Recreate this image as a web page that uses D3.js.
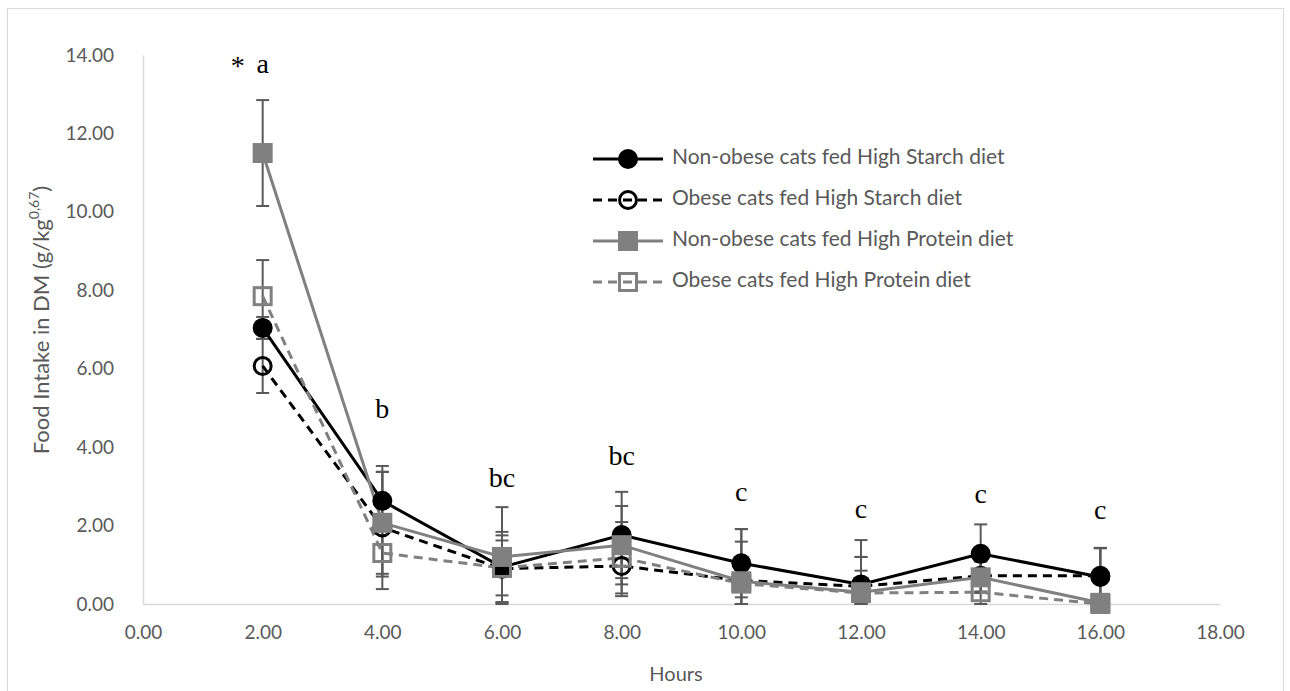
<!DOCTYPE html>
<html>
<head>
<meta charset="utf-8">
<script src="https://cdn.jsdelivr.net/npm/d3@7/dist/d3.min.js"></script>
<style>
  body { margin: 0; background: #fff; }
  svg { display: block; }
  .tick text { font-family: Lato, "Noto Sans", sans-serif; font-size: 19px; fill: #595959; }
</style>
</head>
<body>
<svg id="chart"></svg>
<script>
// hours after feeding
var hours = [2, 4, 6, 8, 10, 12, 14, 16];

// mean food intake per group, and the error bar size
var nonObeseStarch = [7.04, 2.63, 0.94, 1.76, 1.04, 0.50, 1.28, 0.69];
var nonObeseStarchErr = [0.28, 0.74, 0.90, 1.10, 0.87, 1.13, 0.75, 0.74];
var obeseStarch = [6.07, 1.95, 0.90, 0.97, 0.60, 0.45, 0.72, 0.72];
var obeseStarchErr = [0.69, 1.57, 0.85, 0.77, 0.60, 0.40, 0.40, 0.70];
var nonObeseProtein = [11.50, 2.07, 1.20, 1.50, 0.58, 0.30, 0.68, 0.03];
var nonObeseProteinErr = [1.35, 1.30, 1.27, 1.00, 1.01, 0.90, 0.40, 1.40];
var obeseProtein = [7.85, 1.30, 0.92, 1.18, 0.52, 0.28, 0.30, 0.00];
var obeseProteinErr = [0.92, 0.60, 0.70, 0.91, 1.39, 0.92, 0.30, 0.00];

var seriesNames = [
    "Non-obese cats fed High Starch diet",
    "Obese cats fed High Starch diet",
    "Non-obese cats fed High Protein diet",
    "Obese cats fed High Protein diet"
];

// significance letters above the time points
var letterHours = [2, 4, 6, 8, 10, 12, 14, 16];
var letterText = ["a", "b", "bc", "bc", "c", "c", "c", "c"];
var letterLevel = [13.7, 4.9, 3.16, 3.72, 2.78, 2.35, 2.73, 2.32];

var xTicks = d3.range(0, 19, 2);
var yTicks = d3.range(0, 15, 2);

var width = 1290;
var height = 691;

var series = [
    {name: seriesNames[0], values: nonObeseStarch, err: nonObeseStarchErr, color: "#000000", dash: null, shape: "circle", filled: true},
    {name: seriesNames[1], values: obeseStarch, err: obeseStarchErr, color: "#000000", dash: "9,6", shape: "circle", filled: false},
    {name: seriesNames[2], values: nonObeseProtein, err: nonObeseProteinErr, color: "#808080", dash: null, shape: "square", filled: true},
    {name: seriesNames[3], values: obeseProtein, err: obeseProteinErr, color: "#808080", dash: "9,6", shape: "square", filled: false}
];

var svg = d3.select("#chart")
    .attr("width", width)
    .attr("height", height);

// chart frame
svg.append("rect")
    .attr("x", 7.5).attr("y", 8.5)
    .attr("width", 1276).attr("height", 700)
    .attr("fill", "none")
    .attr("stroke", "#d9d9d9");

var x = d3.scaleLinear().domain([0, 18]).range([143, 1220]);
var y = d3.scaleLinear().domain([0, 14]).range([604, 55]);

var xAxis = svg.append("g")
    .attr("transform", "translate(0," + y(0) + ")")
    .call(d3.axisBottom(x).tickValues(xTicks).tickFormat(d3.format(".2f")).tickSize(0).tickPadding(22));
var yAxis = svg.append("g")
    .attr("transform", "translate(" + x(0) + ",0)")
    .call(d3.axisLeft(y).tickValues(yTicks).tickFormat(d3.format(".2f")).tickSize(0).tickPadding(29));

xAxis.select(".domain").attr("stroke", "#d9d9d9").attr("stroke-width", 1.5);
yAxis.select(".domain").attr("stroke", "#d9d9d9").attr("stroke-width", 1.5);

// axis titles
svg.append("text")
    .attr("x", 676)
    .attr("y", 676)
    .attr("text-anchor", "middle")
    .attr("dominant-baseline", "middle")
    .style("font-family", "Lato, 'Noto Sans', sans-serif")
    .style("font-size", "20px")
    .style("fill", "#595959")
    .text("Hours");

var yTitle = svg.append("text")
    .attr("transform", "translate(43,320) rotate(-90)")
    .attr("text-anchor", "middle")
    .attr("dominant-baseline", "middle")
    .style("font-family", "Lato, 'Noto Sans', sans-serif")
    .style("font-size", "22px")
    .style("fill", "#595959");
yTitle.append("tspan").text("Food Intake in DM (g/kg");
yTitle.append("tspan").attr("dy", -8).style("font-size", "14px").text("0,67");
yTitle.append("tspan").attr("dy", 8).text(")");

// error bars
var capHalf = 6.5;
series.forEach(function(s){
    var g = svg.append("g").attr("stroke", "#595959").attr("stroke-width", 2);
    hours.forEach(function(h, i){
        if (s.err[i] <= 0) return;
        var top = y(s.values[i] + s.err[i]);
        var bottom = y(Math.max(0, s.values[i] - s.err[i]));
        g.append("line").attr("x1", x(h)).attr("x2", x(h)).attr("y1", top).attr("y2", bottom);
        g.append("line").attr("x1", x(h) - capHalf).attr("x2", x(h) + capHalf).attr("y1", top).attr("y2", top);
        g.append("line").attr("x1", x(h) - capHalf).attr("x2", x(h) + capHalf).attr("y1", bottom).attr("y2", bottom);
    });
});

// lines
var line = d3.line()
    .x(function(d){ return x(d[0]); })
    .y(function(d){ return y(d[1]); });

series.forEach(function(s){
    svg.append("path")
        .datum(hours.map(function(h, i){ return [h, s.values[i]]; }))
        .attr("d", line)
        .attr("fill", "none")
        .attr("stroke", s.color)
        .attr("stroke-width", 3)
        .attr("stroke-dasharray", s.dash);
});

function drawMarker(g, s, cx, cy){
    if (s.shape === "circle") {
        if (s.filled) {
            g.append("circle").attr("cx", cx).attr("cy", cy).attr("r", 10).attr("fill", s.color);
        } else {
            g.append("circle").attr("cx", cx).attr("cy", cy).attr("r", 8.5)
                .attr("fill", "none").attr("stroke", s.color).attr("stroke-width", 3);
        }
    } else {
        if (s.filled) {
            g.append("rect").attr("x", cx - 10).attr("y", cy - 10).attr("width", 20).attr("height", 20)
                .attr("fill", s.color);
        } else {
            g.append("rect").attr("x", cx - 8.5).attr("y", cy - 8.5).attr("width", 17).attr("height", 17)
                .attr("fill", "none").attr("stroke", s.color).attr("stroke-width", 3);
        }
    }
}

// markers
series.forEach(function(s){
    var g = svg.append("g");
    hours.forEach(function(h, i){
        drawMarker(g, s, x(h), y(s.values[i]));
    });
});

// significance letters
var letters = svg.append("g")
    .style("font-family", "'Liberation Serif', 'DejaVu Serif', serif")
    .style("font-size", "28px")
    .style("fill", "#000");
letterHours.forEach(function(h, i){
    letters.append("text")
        .attr("x", x(h))
        .attr("y", y(letterLevel[i]))
        .attr("text-anchor", "middle")
        .attr("dominant-baseline", "middle")
        .text(letterText[i]);
});
letters.append("text")
    .attr("x", x(2) - 25)
    .attr("y", y(letterLevel[0]) + 2)
    .attr("text-anchor", "middle")
    .attr("dominant-baseline", "middle")
    .text("*");

// legend
var legend = svg.append("g");
series.forEach(function(s, i){
    var ly = 159 + i * 41;
    legend.append("line")
        .attr("x1", 593).attr("x2", 663)
        .attr("y1", ly).attr("y2", ly)
        .attr("stroke", s.color)
        .attr("stroke-width", 3)
        .attr("stroke-dasharray", s.dash);
    drawMarker(legend, s, 628, ly);
    legend.append("text")
        .attr("x", 672)
        .attr("y", ly)
        .attr("dominant-baseline", "middle")
        .style("font-family", "Lato, 'Noto Sans', sans-serif")
        .style("font-size", "21px")
        .style("fill", "#595959")
        .text(s.name);
});
</script>
</body>
</html>
